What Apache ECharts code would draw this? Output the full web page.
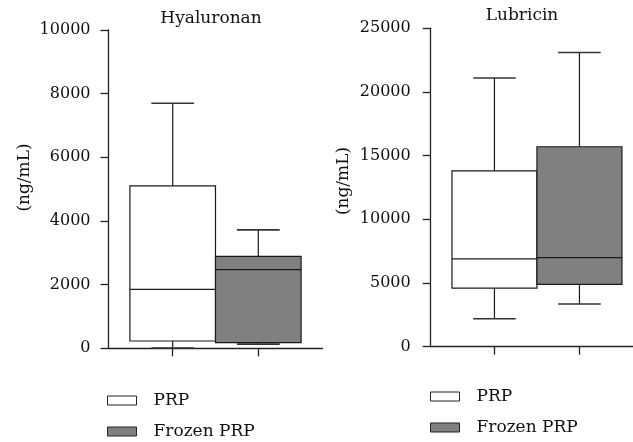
<!DOCTYPE html>
<html><head><meta charset="utf-8">
<script src="https://cdn.jsdelivr.net/npm/echarts@6/dist/echarts.min.js"></script>
<style>html,body{margin:0;padding:0;background:#fff}#c{width:633px;height:442px}</style>
</head><body><div id="c"></div>
<script>
// ---- data ----
const groups = ['PRP', 'Frozen PRP'];
const titles = ['Hyaluronan', 'Lubricin'];
const yName = '(ng/mL)';
// box values: [min, Q1, median, Q3, max] in ng/mL
const hyaluronanPRP = [10, 230, 1850, 5100, 7700];
const hyaluronanFrozen = [130, 180, 2470, 2890, 3720];
const lubricinPRP = [2200, 4600, 6900, 13800, 21100];
const lubricinFrozen = [3350, 4900, 7000, 15700, 23100];
// y axis: [min, max, interval]
const hyaluronanAxis = [0, 10000, 2000];
const lubricinAxis = [0, 25000, 5000];

// ---- layout / style ----
const FONT = '"DejaVu Serif", serif';
const TXT = '#111';
const AX = '#222';
const fills = ['#ffffff', '#808080'];
const slotCount = 11;
const slotOf = [3, 7];
const slots = Array.from({length: slotCount}, (_, i) => {
  const k = slotOf.indexOf(i);
  return k >= 0 ? groups[k] : 's' + i;
});

function renderBox(fill) {
  return function (params, api) {
    const x = api.value(0);
    const vals = [1, 2, 3, 4, 5].map(i => api.value(i));
    const p = vals.map(v => api.coord([x, v]));
    const cx = p[0][0];
    const step = api.coord([x + 1, vals[0]])[0] - cx;
    const hw = step * 2, cw = step;
    const [yMin, yQ1, yMed, yQ3, yMax] = p.map(q => q[1]);
    const ln = {stroke: '#1a1a1a', lineWidth: 1.2};
    const cap = {stroke: '#333', lineWidth: 1.6};
    return {
      type: 'group',
      children: [
        {type: 'line', shape: {x1: cx, y1: yQ3, x2: cx, y2: yMax}, style: ln},
        {type: 'line', shape: {x1: cx - cw, y1: yMax, x2: cx + cw, y2: yMax}, style: cap},
        {type: 'line', shape: {x1: cx, y1: yQ1, x2: cx, y2: yMin}, style: ln},
        {type: 'line', shape: {x1: cx - cw, y1: yMin, x2: cx + cw, y2: yMin}, style: cap},
        {type: 'rect', shape: {x: cx - hw, y: yQ3, width: hw * 2, height: yQ1 - yQ3},
          style: {fill: fill, stroke: '#1a1a1a', lineWidth: 1.2}},
        {type: 'line', shape: {x1: cx - hw, y1: yMed, x2: cx + hw, y2: yMed}, style: ln}
      ]
    };
  };
}

function boxSeries(name, gi, k, vals) {
  return {
    name: name, type: 'custom', xAxisIndex: gi, yAxisIndex: gi,
    itemStyle: {color: fills[k], borderColor: AX},
    renderItem: renderBox(fills[k]),
    encode: {x: 0, y: [1, 2, 3, 4, 5]},
    data: [[slotOf[k]].concat(vals)],
    silent: true
  };
}

function xAx(gi) {
  return {
    gridIndex: gi, type: 'category', data: slots, boundaryGap: false,
    axisLine: {lineStyle: {color: AX, width: 1.3}},
    axisTick: {length: 8, interval: (idx) => slotOf.indexOf(idx) >= 0, lineStyle: {color: AX, width: 1.3}},
    axisLabel: {show: false}, splitLine: {show: false}
  };
}
function yAx(gi, ax, margin) {
  return {
    gridIndex: gi, type: 'value', min: ax[0], max: ax[1], interval: ax[2],
    axisLine: {show: true, lineStyle: {color: AX, width: 1.3}},
    axisTick: {show: true, length: 8, lineStyle: {color: AX, width: 1.3}},
    axisLabel: {margin: margin, fontFamily: FONT, fontSize: 16, color: TXT,
      formatter: (v) => String(v)},
    splitLine: {show: false}
  };
}
function legendCfg(left, top) {
  return {
    left: left, top: top, orient: 'vertical', padding: 0,
    itemWidth: 29, itemHeight: 9, itemGap: 14, selectedMode: false,
    textStyle: {fontFamily: FONT, fontSize: 17, color: TXT, padding: [0, 0, 0, 12]},
    data: groups.map((g, k) => ({name: g, icon: 'rect',
      itemStyle: {color: fills[k], borderColor: AX, borderWidth: 1}}))
  };
}
function titleCfg(text, x, top) {
  return {text: text, left: x, top: top, textAlign: 'center', padding: 0,
    textStyle: {fontFamily: FONT, fontSize: 17, fontWeight: 'normal', color: TXT}};
}
function yNameText(x, y) {
  return {type: 'text', x: x, y: y, rotation: Math.PI / 2,
    style: {text: yName, fontFamily: FONT, fontSize: 17, fill: TXT, align: 'center', verticalAlign: 'middle'}};
}

const chart = echarts.init(document.getElementById('c'), null, {renderer: 'canvas'});
chart.setOption({
  animation: false,
  backgroundColor: '#fff',
  title: [titleCfg(titles[0], 211, 10), titleCfg(titles[1], 522, 7)],
  grid: [
    {left: 108.5, top: 30, width: 214, height: 318.3, outerBoundsMode: 'none', containLabel: false},
    {left: 430.7, top: 28.3, width: 212.5, height: 318.4, outerBoundsMode: 'none', containLabel: false}
  ],
  xAxis: [xAx(0), xAx(1)],
  yAxis: [yAx(0, hyaluronanAxis, 18), yAx(1, lubricinAxis, 20)],
  legend: [legendCfg(107, 392), legendCfg(430, 388)],
  graphic: [yNameText(25, 177.5), yNameText(344, 181)],
  series: [
    boxSeries(groups[0], 0, 0, hyaluronanPRP),
    boxSeries(groups[1], 0, 1, hyaluronanFrozen),
    boxSeries(groups[0], 1, 0, lubricinPRP),
    boxSeries(groups[1], 1, 1, lubricinFrozen)
  ]
});
</script></body></html>
